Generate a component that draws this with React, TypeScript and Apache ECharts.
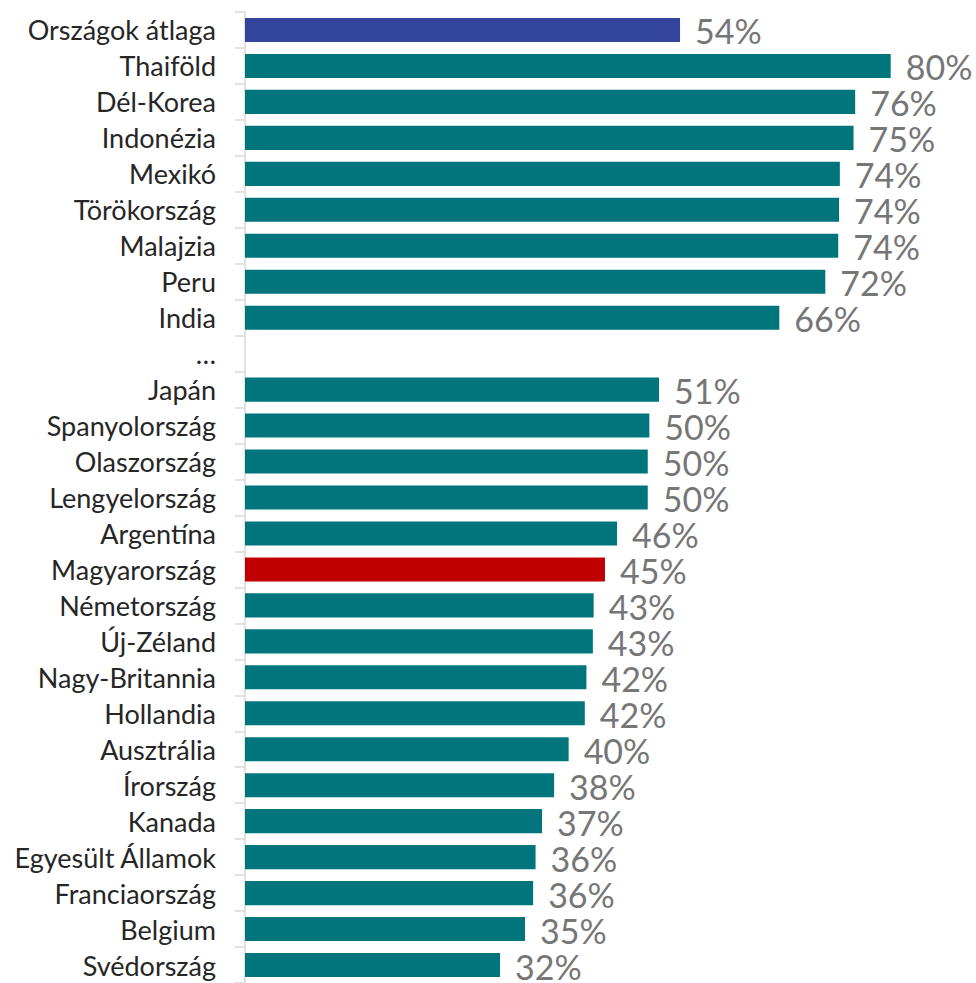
import React, { useEffect, useRef } from "react";
import * as echarts from "echarts";

const categories = [
  "Országok átlaga",
  "Thaiföld",
  "Dél-Korea",
  "Indonézia",
  "Mexikó",
  "Törökország",
  "Malajzia",
  "Peru",
  "India",
  "…",
  "Japán",
  "Spanyolország",
  "Olaszország",
  "Lengyelország",
  "Argentína",
  "Magyarország",
  "Németország",
  "Új-Zéland",
  "Nagy-Britannia",
  "Hollandia",
  "Ausztrália",
  "Írország",
  "Kanada",
  "Egyesült Államok",
  "Franciaország",
  "Belgium",
  "Svédország",
];

const values: (number | null)[] = [
  53.9, 80.0, 75.6, 75.4, 73.7, 73.6, 73.5, 71.9, 66.2, null,
  51.3, 50.1, 49.9, 49.9, 46.1, 44.6, 43.2, 43.1, 42.3, 42.1,
  40.1, 38.3, 36.8, 36.0, 35.7, 34.7, 31.6,
];

const averageCategory = "Országok átlaga";
const highlightCategory = "Magyarország";

const COLOR_DEFAULT = "#00767C";
const COLOR_AVERAGE = "#33449C";
const COLOR_HIGHLIGHT = "#C00000";

export default function App() {
  const ref = useRef<HTMLDivElement>(null);

  useEffect(() => {
    document.body.style.margin = "0";
    if (!ref.current) return;
    const chart = echarts.init(ref.current, undefined, { renderer: "svg" });
    const data = categories.map((c, i) => {
      const v = values[i];
      const color =
        c === averageCategory
          ? COLOR_AVERAGE
          : c === highlightCategory
          ? COLOR_HIGHLIGHT
          : COLOR_DEFAULT;
      return { value: v, itemStyle: { color } };
    });
    chart.setOption({
      animation: false,
      grid: { left: 245, top: 12, width: 726.4, height: 971 },
      xAxis: {
        type: "value",
        min: 0,
        max: 90,
        show: false,
      },
      yAxis: {
        type: "category",
        data: categories,
        inverse: true,
        axisLine: { show: true, lineStyle: { color: "#D9D9D9", width: 1.5 } },
        axisTick: { show: true, length: 10, lineStyle: { color: "#D9D9D9", width: 1.5 } },
        axisLabel: {
          margin: 29,
          fontSize: 27,
          lineHeight: 30,
          color: "#262626",
          fontFamily: "Lato",
        },
        splitLine: { show: false },
      },
      series: [
        {
          type: "bar",
          data,
          barCategoryGap: "33%",
          label: {
            show: true,
            position: "right",
            distance: 15,
            fontSize: 34,
            lineHeight: 28,
            color: "#767676",
            fontFamily: "Lato",
            offset: [0, 1],
            formatter: (p: any) =>
              p.value == null ? "" : Math.round(p.value) + "%",
          },
        },
      ],
    });
    return () => chart.dispose();
  }, []);

  return <div ref={ref} style={{ width: 976, height: 983 }} />;
}
